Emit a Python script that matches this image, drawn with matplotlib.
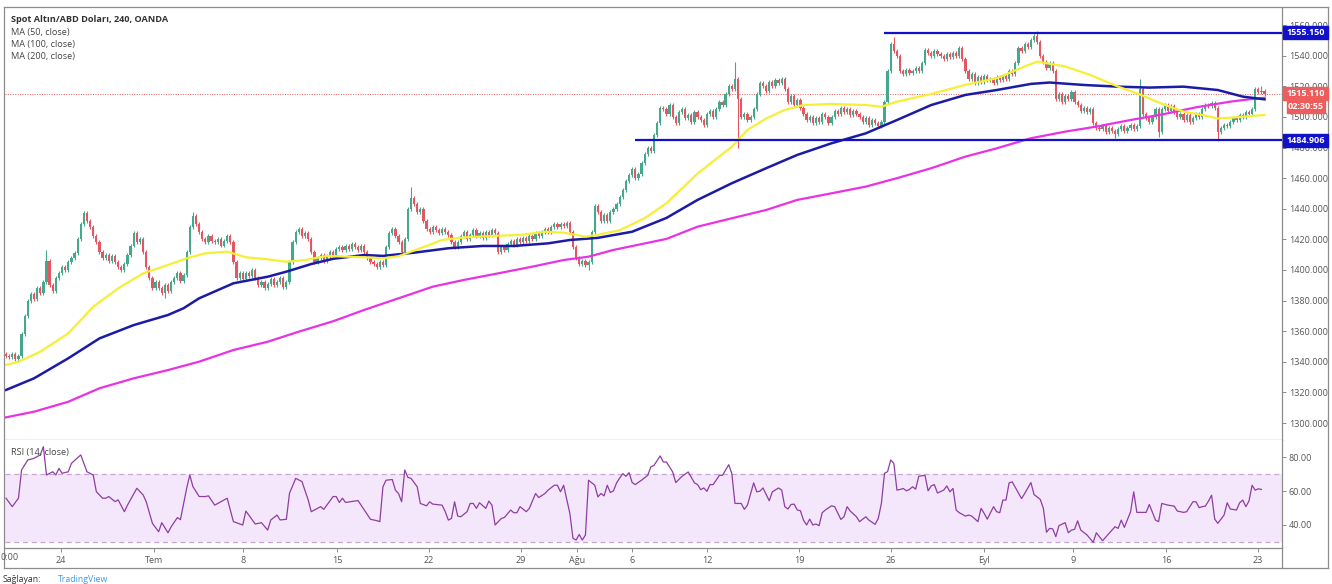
import numpy as np
import matplotlib
matplotlib.use('Agg')
import matplotlib.pyplot as plt
from matplotlib.patches import Rectangle
from matplotlib.lines import Line2D

plt.rcParams['font.family'] = ['Open Sans', 'DejaVu Sans']

W, H = 1332, 584

# 4H closes, XAU/USD (OANDA), one value per candle
first_open = 1345
closes = [
    1344, 1343, 1345, 1342, 1344, 1358, 1370,
    1380, 1384, 1381, 1388, 1385, 1392, 1406, 1390, 1386, 1395,
    1398, 1402, 1400, 1405, 1408, 1411, 1420, 1430, 1437,
    1432, 1428, 1422, 1418, 1412,
    1408, 1410, 1406, 1409, 1405, 1402, 1400, 1404,
    1410, 1416, 1424, 1418, 1420, 1412, 1402, 1395, 1388,
    1392, 1388, 1385, 1390, 1386, 1392, 1395, 1398, 1393, 1397,
    1412, 1428, 1435, 1430, 1425, 1420, 1418, 1422, 1419,
    1418, 1420, 1416, 1419, 1422, 1418, 1405, 1395, 1398,
    1394, 1398, 1396, 1400, 1395, 1390, 1392, 1388, 1391,
    1394, 1390, 1392, 1395, 1389, 1392, 1405, 1418, 1425,
    1427, 1422, 1424, 1420, 1412, 1405,
    1408, 1410, 1406, 1409, 1412, 1410, 1414,
    1415, 1413, 1416, 1414, 1417, 1415, 1413, 1416, 1412, 1408,
    1405, 1404, 1402, 1405, 1403, 1415, 1424, 1427, 1422,
    1418, 1412, 1420, 1440, 1447, 1443, 1438, 1440, 1432,
    1427, 1425, 1428, 1426, 1424, 1427, 1425, 1423, 1418, 1415,
    1418, 1422, 1425, 1420, 1423, 1426, 1422, 1424, 1421, 1425, 1423, 1426, 1424,
    1412,
    1415, 1413, 1417, 1419, 1416, 1420, 1418, 1421, 1419, 1422, 1420,
    1424, 1422, 1425, 1427, 1425, 1428, 1430, 1428, 1430, 1429, 1431,
    1425, 1415, 1408, 1404, 1406, 1403, 1405, 1425, 1442,
    1438, 1432, 1436, 1432, 1438, 1440,
    1443, 1448, 1452, 1458, 1462, 1466, 1460, 1463, 1470, 1476, 1480, 1478, 1488, 1496, 1506,
    1505, 1502, 1508, 1500, 1496, 1503, 1505, 1499, 1501, 1497, 1503, 1500, 1498, 1495, 1502, 1504, 1500,
    1505, 1510, 1508, 1515, 1520, 1518, 1525, 1512, 1500,
    1502, 1498, 1500, 1505,
    1515, 1522, 1520, 1517, 1523, 1520, 1524, 1522, 1525,
    1518, 1510, 1514, 1508, 1511, 1506,
    1502, 1498, 1500, 1496, 1499, 1497, 1502, 1500, 1496,
    1500, 1504, 1502, 1506, 1503, 1505, 1501, 1504, 1502,
    1500, 1497, 1499, 1495, 1498, 1496, 1494, 1497,
    1510, 1530, 1548, 1543,
    1540, 1530, 1528, 1531, 1529, 1530, 1532, 1530, 1535, 1544, 1542, 1540, 1543, 1541,
    1540, 1538, 1541, 1539, 1542, 1540, 1545, 1538,
    1530, 1525, 1528, 1522, 1526, 1523, 1527, 1524,
    1525, 1522, 1526, 1524, 1527, 1525, 1530, 1528,
    1535, 1545, 1543, 1548, 1546, 1550, 1553, 1549,
    1540, 1536, 1532, 1535, 1530, 1512,
    1515, 1510, 1514, 1512, 1516, 1510,
    1508, 1504, 1506, 1503, 1505, 1496, 1493,
    1492, 1494, 1490, 1493, 1491, 1489, 1492, 1494, 1491, 1493, 1495, 1492, 1494,
    1518, 1502, 1499, 1497, 1500, 1505, 1490, 1505,
    1508, 1504, 1507, 1503,
    1500, 1502, 1498, 1501, 1497, 1499, 1502, 1500,
    1505, 1508, 1507, 1509, 1506, 1490,
    1493, 1495, 1494, 1497, 1499, 1498, 1501, 1500, 1503, 1502, 1505,
    1518, 1516, 1517, 1515.11,
]

# long wicks that stand out
spike_highs = {13: 1413, 60: 1438, 130: 1454, 234: 1536, 285: 1552, 331: 1556, 364: 1525, 403: 1520}
spike_lows = {51: 1382, 187: 1400, 235: 1480, 356: 1486, 370: 1487, 389: 1484}

# moving averages (bar index, value)
ma50_bars = [0, 4, 11, 20, 28, 36, 44, 52, 58, 64, 71, 77, 84, 90, 96, 103, 115, 121, 126, 133,
             140, 147, 156, 165, 173, 179, 186, 190, 197, 205, 212, 222, 233, 238, 244, 250, 256, 265, 276, 281,
             286, 297, 308, 318, 327, 331, 340, 348, 357, 363, 372, 378, 384, 389, 395, 404]
ma50 = [1338, 1340, 1346.6, 1358.6, 1376, 1388, 1397.8, 1403.3, 1407.6, 1410.9, 1412, 1408.3, 1407, 1405.4,
        1406.5, 1409.2, 1408.3, 1407.6, 1409, 1414.2, 1419.6, 1421.3, 1422.2, 1422.9, 1425, 1424.4, 1421.8, 1423,
        1426, 1433.8, 1443.6, 1463, 1480.6, 1491.5, 1499, 1504.6, 1507.8, 1508.5, 1507.8, 1506.7, 1510, 1515, 1521,
        1525.3, 1533, 1536.2, 1533, 1527.5, 1519.8, 1515.5, 1507.8, 1503.5, 1501.3, 1499, 1499.8, 1501.3]

ma100_bars = [0, 9, 20, 30, 41, 52, 57, 62, 73, 84, 90, 98, 105, 115, 121, 131, 142, 153, 163, 174,
              181, 190, 201, 212, 222, 233, 244, 254, 265, 276, 286, 297, 308, 318, 329, 335, 346, 357, 367, 378,
              389, 397, 404]
ma100 = [1321.6, 1329.2, 1342.3, 1355.3, 1364, 1370.6, 1375, 1381.5, 1391.3, 1395.6, 1398.9, 1403.9, 1407.3,
         1409.8, 1409.2, 1411.3, 1414.2, 1415.7, 1415.7, 1417.4, 1419.6, 1421, 1425, 1434, 1445.8, 1456.7, 1466.5,
         1475.2, 1482.8, 1489.3, 1498, 1507.8, 1514.4, 1517.6, 1521.6, 1522.5, 1520.9, 1519.8, 1519.2, 1519.8,
         1517.6, 1513.3, 1511.5]

ma200_bars = [0, 9, 20, 30, 41, 52, 62, 73, 84, 94, 105, 115, 126, 137, 147, 158, 169, 179, 187, 195,
              212, 222, 233, 244, 254, 265, 276, 286, 297, 308, 318, 329, 340, 350, 361, 372, 382, 393, 399, 404]
ma200 = [1303.7, 1307.4, 1313.9, 1322.7, 1329.2, 1334.6, 1340.1, 1347.7, 1353.1, 1359.7, 1366.5, 1373.9,
         1381.5, 1389.1, 1393.5, 1397.8, 1402.2, 1406.5, 1408.7, 1413.1, 1420.3, 1428.3, 1433.8, 1439.2, 1445.8,
         1450.1, 1454.5, 1460, 1466.5, 1474.1, 1479.5, 1486.1, 1490.4, 1493.7, 1498, 1502, 1506.3, 1510, 1511.5,
         1512.5]

# RSI(14) (bar index, value)
rsi_bars = [0, 2, 4, 5, 7, 9, 11, 12, 13, 15, 16, 17, 18, 20, 21, 24, 26, 28, 29, 31, 32, 33, 35, 36, 38, 39,
            42, 44, 45, 47, 49, 50, 52, 53, 55, 56, 58, 59, 60, 62, 64, 65, 67, 71, 73, 76, 77, 80, 82, 84, 85, 87,
            88, 90, 91, 93, 95, 97, 98, 101, 102, 105, 106, 107, 108, 109, 113, 117, 119,
            120, 121, 122, 124, 125, 126, 127, 128, 129, 130, 132, 133, 135, 136, 137, 140, 141, 142, 143, 144,
            145, 146, 148, 149, 150, 151, 152, 154, 155, 156, 157, 159, 160, 162, 163, 164, 165, 167, 168, 170,
            171, 173, 174, 176, 177, 178, 179, 181, 182, 183, 184, 185, 186, 187, 189, 190, 191, 192, 193, 194,
            195, 196, 197, 198, 199, 200, 201, 202, 204, 206, 207, 208, 210, 211, 212, 214, 215, 217, 219, 221,
            222, 223, 224, 225, 226, 227, 229, 230, 232, 233, 234, 236, 237, 238, 240, 241, 242, 243, 245, 246, 248,
            249, 250, 251, 252, 253, 254, 255, 256, 257, 258, 259, 260, 261, 262, 263, 265, 266, 268, 269, 270,
            271, 273, 274, 276, 277, 279, 280, 281, 282, 283, 284, 285, 286, 287, 288, 289, 290, 291, 292, 293,
            295, 296, 297, 298, 299, 301, 302, 303, 304, 305, 306, 308, 309, 310, 312, 313, 314, 315, 317, 318,
            319, 320, 321, 322, 323, 326, 327, 329, 330, 332, 333, 334, 335, 336, 337, 338, 340, 341, 342, 343,
            344, 345, 347, 349, 350, 352,
            356, 357, 358, 359, 361, 362, 363, 366, 367, 369, 370, 371, 373, 375, 376, 378, 379, 381, 382, 383,
            384, 385, 386, 387, 388, 389, 391, 392, 393, 395, 396, 397, 398, 399, 400, 401, 402, 403]
rsi = [55.8, 50.8, 55.8, 72.6, 78.5, 79.5, 81.5, 86.4, 69.6, 71.5, 69.6, 73.5, 70.6, 71.5, 76.5, 81.5, 71.5, 69.6,
       59.7, 55.8, 55.8, 56.8, 53.8, 54.8, 47.8, 51.7, 61.7, 57.8, 53.8, 40.9, 35.9, 41.3, 35.3, 38.8, 44.3, 43.1,
       61.7, 69.6, 62.7, 56.8, 56.8, 57.2, 51.7, 55.8, 41.9, 39.9, 48.2, 40.5, 41.3, 36.9, 42.9, 45.8, 42.9, 43.3,
       58.7, 67.6, 65.7, 54.8, 47.8, 50.8, 49.2, 56.8, 56.8, 53.3, 55.8, 53.3, 54.4, 43.3, 42.5,
       41.9, 62.6, 66.5, 66.9, 60.6, 58.6, 53.7, 72.6, 68.2, 67.6, 62.6, 52.7, 51.3, 53.7, 52.3, 51.7, 47.8, 42.8,
       43.8, 53.7, 45.2, 44.8, 47.8, 52.7, 52.7, 49.8, 53.1, 49.8, 54.1, 51.7, 39.9, 43.8, 44.4, 48.8, 47.2, 47.2,
       50.8, 47.8, 49.8, 58.6, 56.2, 58.6, 60.6, 63.5, 63.5, 59.6, 63.5, 46.8, 32.0, 31.0, 34.3, 31.0, 34.0, 66.5,
       63.5, 56.6, 58.6, 57.2, 63.5, 59.2, 60.2, 64.9, 67.8, 70.4, 68.8, 71.0, 65.1, 63.9, 66.5, 69.4, 74.4, 75.3,
       80.9, 77.3, 77.3, 71.4, 65.1, 68.8, 71.4, 64.9, 63.9, 60.9, 61.9, 59.9, 63.9, 63.9, 69.4, 69.4, 75.7, 70.4,
       52.7, 52.7, 49.2, 51.7, 64.9, 59.6, 60.0, 61.9, 54.3, 59.6, 61.9,
       60.6, 50.8, 49.4, 52.1, 52.3, 48.8, 48.4, 42.8, 39.9, 43.4, 39.9, 40.5, 39.5, 47.2, 48.8, 51.3, 50.8, 43.2,
       44.8, 50.8, 48.2, 44.8, 41.9, 44.8, 42.8, 40.3, 43.8, 52.7, 70.6, 71.6, 78.5, 76.5, 60.6, 61.0, 61.6, 60.2,
       61.0, 62.6, 61.2, 68.8, 69.4, 60.2, 63.1, 63.9, 58.9, 60.6, 63.1, 59.6, 61.6, 48.8, 47.2, 45.2, 45.8, 45.2,
       41.9, 49.8, 46.8, 43.4, 50.8, 47.8, 47.2, 54.7, 54.7, 64.9, 65.5, 55.6, 58.6, 65.1, 58.0, 55.1, 49.8, 35.6,
       37.9, 37.6, 33.0, 39.5, 41.3, 35.3, 36.9, 37.3, 42.4, 36.9, 34.0, 29.6, 35.3, 30.6,
       38.9, 37.9, 42.8, 38.5, 47.8, 59.6, 47.4, 47.4, 52.1, 42.8, 41.9, 52.7, 51.7, 51.1, 48.2, 47.4, 47.8, 53.7,
       53.7, 50.2, 50.8, 51.1, 54.1, 57.6, 43.4, 40.9, 45.8, 53.1, 49.4, 48.8, 53.1, 54.7, 50.8, 54.1, 63.5, 60.6,
       61.4, 61.0]

# horizontal levels drawn on the chart (price, first bar)
level_prices = [1555.150, 1484.906]
level_start = [282, 202]
last_price = 1515.110
countdown = '02:30:55'

# date axis
date_ticks = [17.7, 47.5, 76.1, 106.3, 135.8, 165.3, 183.3, 201.0, 225.0, 254.6, 284.1, 314.0, 342.5, 372.4, 401.9]
date_labels = ['24', 'Tem', '8', '15', '22', '29', 'Ağu', '6', '12', '19', '26', 'Eyl', '9', '16', '23']

assert len(rsi_bars) == len(rsi)
assert len(ma50_bars) == len(ma50) and len(ma100_bars) == len(ma100) and len(ma200_bars) == len(ma200)

UP, DOWN = '#45a88d', '#e65660'
TXT = '#444444'
GRID = '#8c8c8c'


def rect(x0, y0, x1, y1):
    return [x0 / W, 1 - y1 / H, (x1 - x0) / W, (y1 - y0) / H]


fig = plt.figure(figsize=(W / 100, H / 100), dpi=100)
ax = fig.add_axes(rect(5, 8, 1282, 440))
ax_rsi = fig.add_axes(rect(5, 440, 1282, 548), sharex=ax)


def ftext(x, y, s, **kw):
    return fig.text(x / W, 1 - y / H, s, **kw)


def fline(x0, y0, x1, y1, **kw):
    fig.add_artist(Line2D([x0 / W, x1 / W], [1 - y0 / H, 1 - y1 / H], **kw))


# candles
closes = np.array(closes, dtype=float)
opens = np.concatenate([[first_open], closes[:-1]])
idx = np.arange(len(closes))
highs = np.maximum(opens, closes) + 1.3
lows = np.minimum(opens, closes) - 1.3
for k, v in spike_highs.items():
    highs[k] = v
for k, v in spike_lows.items():
    lows[k] = v
up = closes >= opens
cols = np.where(up, UP, DOWN)
ax.vlines(idx, lows, highs, colors=cols, lw=0.8, zorder=2)
body_lo = np.minimum(opens, closes)
body_h = np.maximum(np.abs(closes - opens), 0.6)
ax.bar(idx, body_h, bottom=body_lo, width=0.72, color=cols, linewidth=0, zorder=3)

# moving averages
ax.plot(ma200_bars, ma200, color='#e832e6', lw=1.6, zorder=4)
ax.plot(ma100_bars, ma100, color='#1b1ba6', lw=1.8, zorder=4)
ax.plot(ma50_bars, ma50, color='#f6ef35', lw=1.6, zorder=4)

# levels
for p, s in zip(level_prices, level_start):
    ax.hlines(p, s, 420, color='#1111cc', lw=1.6, zorder=5)
ax.axhline(last_price, color='#e05a5a', lw=0.7, ls=(0, (1, 1.5)), zorder=1)

ax.set_xlim(-0.32, 409.6)
ax.set_ylim(1288.9, 1571.2)
ax.yaxis.tick_right()
ax.set_yticks(np.arange(1300, 1561, 20))
ax.set_yticklabels([f'{v:.3f}' for v in np.arange(1300, 1561, 20)])
ax.tick_params(axis='y', direction='out', length=3, width=0.7, color=GRID, labelsize=6.5,
               labelcolor='#555555', pad=2)
ax.tick_params(axis='x', length=0, labelbottom=False)
for sp in ['top', 'left']:
    ax.spines[sp].set_visible(False)
for sp in ['right', 'bottom']:
    ax.spines[sp].set_color(GRID)
    ax.spines[sp].set_linewidth(0.9)

# RSI panel
ax_rsi.axhspan(30, 70, color='#f4e7fc', lw=0, zorder=0)
for lv in (70, 30):
    ax_rsi.axhline(lv, color='#c6a5d2', lw=0.9, ls=(0, (4, 3)), zorder=1)
ax_rsi.plot(rsi_bars, rsi, color='#8e3ea2', lw=0.9, zorder=3)
ax_rsi.set_ylim(26.26, 90.36)
ax_rsi.yaxis.tick_right()
ax_rsi.set_yticks([40, 60, 80])
ax_rsi.set_yticklabels(['40.00', '60.00', '80.00'])
ax_rsi.tick_params(axis='y', direction='out', length=3, width=0.7, color=GRID, labelsize=6.5,
                   labelcolor='#555555', pad=2)
ax_rsi.set_xticks(date_ticks)
ax_rsi.set_xticklabels(date_labels)
ax_rsi.tick_params(axis='x', direction='out', length=3, width=0.7, color=GRID, labelsize=6.5,
                   labelcolor='#555555', pad=3)
for sp in ['top', 'left']:
    ax_rsi.spines[sp].set_visible(False)
for sp in ['right', 'bottom']:
    ax_rsi.spines[sp].set_color(GRID)
    ax_rsi.spines[sp].set_linewidth(0.9)

# outer frame
fline(4, 7, 1328, 7, color=GRID, lw=0.9)
fline(4, 7, 4, 568, color=GRID, lw=0.9)
fline(1328, 7, 1328, 568, color=GRID, lw=0.9)
fline(4, 568, 1328, 568, color=GRID, lw=0.9)
fline(1282, 548, 1282, 568, color=GRID, lw=0.9)

# price labels on the axis
fig.canvas.draw()


def ypx(price):
    return H - ax.transData.transform((0, price))[1]


def axis_box(y, label, color, x0=1283, w=45, h=13):
    fig.add_artist(Rectangle((x0 / W, 1 - (y + h / 2) / H), w / W, h / H,
                             transform=fig.transFigure, color=color, zorder=10))
    ftext(x0 + w / 2, y, label, ha='center', va='center', color='white', fontsize=6.5,
          fontweight='bold', zorder=11)


for p in level_prices:
    axis_box(ypx(p), f'{p:.3f}', '#1111cc')
yl = ypx(last_price)
axis_box(yl, f'{last_price:.3f}', '#ee5c5c')
axis_box(yl + 13, countdown, '#ee5c5c', x0=1287, w=38, h=12)

# legend text
ftext(11, 19, 'Spot Altın/ABD Doları, 240, OANDA', fontsize=6.6, fontweight='bold', color='#333333',
      va='center')
ftext(11, 32, 'MA (50, close)', fontsize=6.6, color=TXT, va='center')
ftext(11, 44.5, 'MA (100, close)', fontsize=6.6, color=TXT, va='center')
ftext(11, 57, 'MA (200, close)', fontsize=6.6, color=TXT, va='center')
ftext(11, 453, 'RSI (14, close)', fontsize=6.6, color=TXT, va='center')

ftext(0.5, 558, '0:00', fontsize=6.5, color='#555555', va='center')
ftext(3, 580, 'Sağlayan:', fontsize=6.3, color='#333333', va='center')
ftext(58, 580, 'TradingView', fontsize=6.3, color='#3d9be9', va='center')

fig.savefig('out.png', dpi=100)
